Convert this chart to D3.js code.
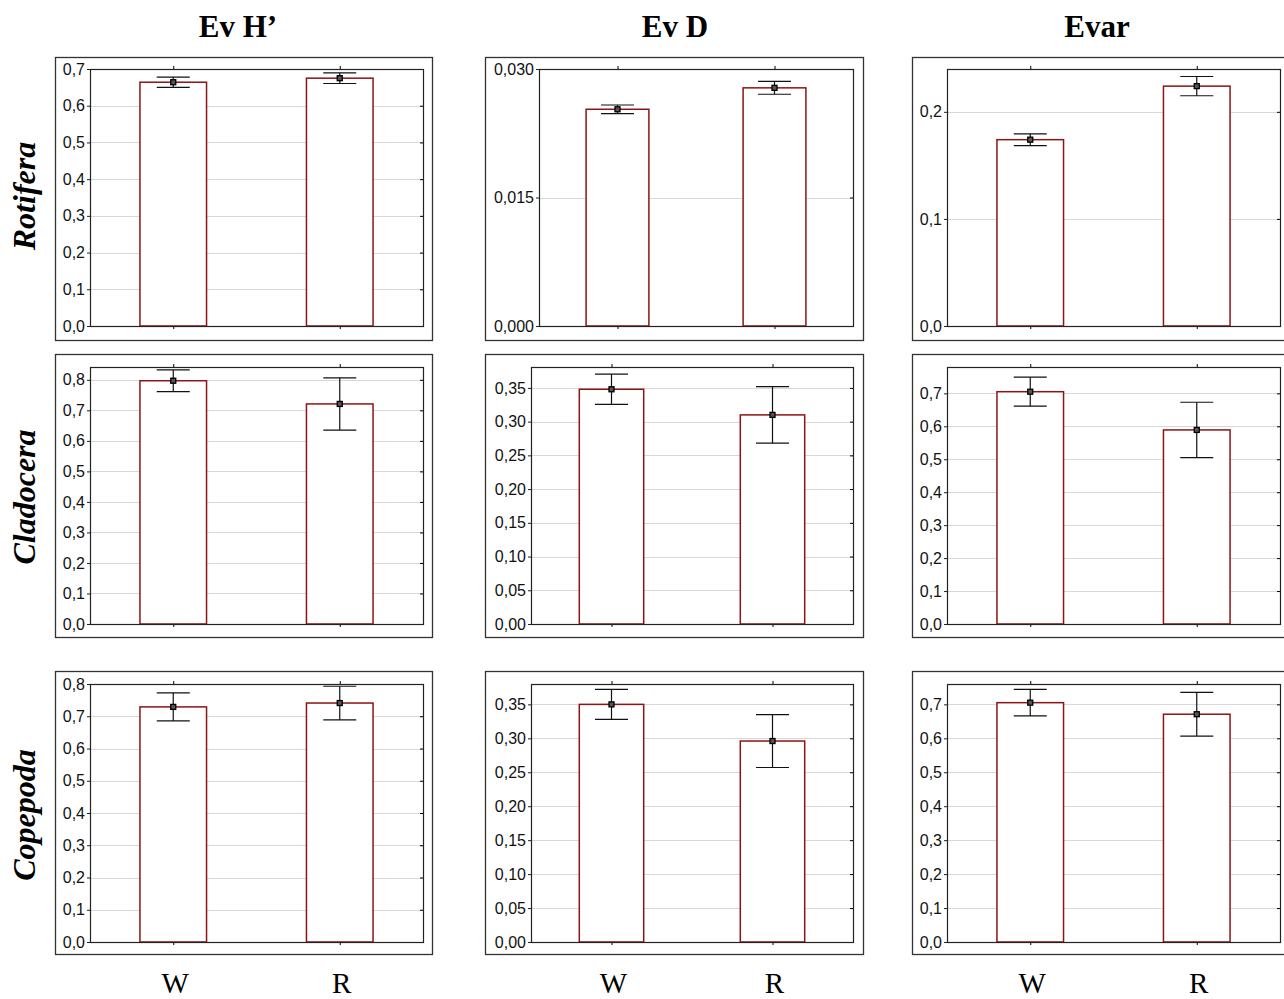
<!DOCTYPE html>
<html><head><meta charset="utf-8">
<script src="https://cdn.jsdelivr.net/npm/d3@7"></script>
<style>body{margin:0;background:#fff}svg{display:block}</style>
</head><body>
<script>
// ---- data ----
const categories = ["W", "R"];
const groups = ["Rotifera", "Cladocera", "Copepoda"];
const indices = ["Ev H\u2019", "Ev D", "Evar"];

const rotiferaMeans  = [[0.664, 0.675], [0.0253, 0.0278], [0.174, 0.224]];
const rotiferaErr    = [[0.014, 0.0145], [0.0005, 0.00075], [0.0055, 0.009]];
const cladoceraMeans = [[0.797, 0.721], [0.348, 0.310], [0.705, 0.589]];
const cladoceraErr   = [[0.0355, 0.0855], [0.0223, 0.042], [0.044, 0.084]];
const copepodaMeans  = [[0.729, 0.741], [0.350, 0.296], [0.705, 0.671]];
const copepodaErr    = [[0.0435, 0.052], [0.022, 0.039], [0.039, 0.0645]];

const yMax = [[0.70, 0.030, 0.240], [0.842, 0.381, 0.780], [0.80, 0.380, 0.760]];
const tickValues = [
  [[0,0.1,0.2,0.3,0.4,0.5,0.6,0.7], [0,0.015,0.030], [0,0.1,0.2]],
  [[0,0.1,0.2,0.3,0.4,0.5,0.6,0.7,0.8], [0,0.05,0.10,0.15,0.20,0.25,0.30,0.35], [0,0.1,0.2,0.3,0.4,0.5,0.6,0.7]],
  [[0,0.1,0.2,0.3,0.4,0.5,0.6,0.7,0.8], [0,0.05,0.10,0.15,0.20,0.25,0.30,0.35], [0,0.1,0.2,0.3,0.4,0.5,0.6,0.7]]
];
const tickFormats = [[".1f", ".3f", ".1f"], [".1f", ".2f", ".1f"], [".1f", ".2f", ".1f"]];

const means = [rotiferaMeans, cladoceraMeans, copepodaMeans];
const errs = [rotiferaErr, cladoceraErr, copepodaErr];

// ---- layout ----
const W = 1284, H = 999;
const outerX = [[55, 432], [485, 863], [912, 1292]];
const outerY = [[57, 340], [354, 637], [671, 954]];
const plotX = [[[90, 423], [539, 853], [947, 1280]],
               [[90, 423], [531, 853], [947, 1280]],
               [[90, 423], [531, 853], [947, 1280]]];
const plotY = [[69, 326], [367, 624], [684, 942]];

const loc = d3.formatLocale({decimal: ",", thousands: ".", grouping: [3], currency: ["", ""]});

const svg = d3.select("body").append("svg").attr("width", W).attr("height", H);

const titleX = [238, 675, 1097];
indices.forEach((t, j) => {
  svg.append("text").attr("x", titleX[j]).attr("y", 37)
    .attr("text-anchor", "middle")
    .attr("font-family", "Liberation Serif, Times New Roman, serif")
    .attr("font-weight", "bold").attr("font-size", 31).text(t);
});
const rowLabelY = [196, 497, 815];
groups.forEach((g, i) => {
  svg.append("text").attr("transform", `translate(35,${rowLabelY[i]}) rotate(-90)`)
    .attr("text-anchor", "middle")
    .attr("font-family", "Liberation Serif, Times New Roman, serif")
    .attr("font-weight", "bold").attr("font-style", "italic")
    .attr("font-size", 32).text(g);
});

for (let i = 0; i < 3; i++) {
  for (let j = 0; j < 3; j++) {
    const [ox0, ox1] = outerX[j], [oy0, oy1] = outerY[i];
    svg.append("rect").attr("x", ox0 + 0.5).attr("y", oy0 + 0.5)
      .attr("width", ox1 - ox0).attr("height", oy1 - oy0)
      .attr("fill", "none").attr("stroke", "#333").attr("stroke-width", 1.3);

    const [px0, px1] = plotX[i][j], [py0, py1] = plotY[i];
    const x = d3.scalePoint().domain(categories).range([px0, px1]).padding(0.5);
    const y = d3.scaleLinear().domain([0, yMax[i][j]]).range([py1, py0]);
    const bw = (px1 - px0) * 0.2;
    const g = svg.append("g");

    // grid
    g.selectAll(".grid").data(tickValues[i][j].filter(v => v > 0 && y(v) > py0 + 1))
      .enter().append("line")
      .attr("x1", px0).attr("x2", px1)
      .attr("y1", d => Math.round(y(d)) + 0.5).attr("y2", d => Math.round(y(d)) + 0.5)
      .attr("stroke", "#d8d8d8").attr("stroke-width", 1);

    // y axis left
    const fmt = loc.format(tickFormats[i][j]);
    const ya = g.append("g").attr("transform", `translate(${px0},0)`)
      .call(d3.axisLeft(y).tickValues(tickValues[i][j]).tickFormat(fmt).tickSize(3).tickPadding(2));
    ya.select(".domain").remove();
    ya.selectAll("text").attr("font-family", "Liberation Sans, Arial, sans-serif")
      .attr("font-size", 16).attr("fill", "#111");
    ya.selectAll("line").attr("stroke", "#222");
    // right ticks
    const yr = g.append("g").attr("transform", `translate(${px1},0)`)
      .call(d3.axisLeft(y).tickValues(tickValues[i][j]).tickFormat("").tickSize(3));
    yr.select(".domain").remove();
    // bottom ticks
    const xb = g.append("g").attr("transform", `translate(0,${py1})`)
      .call(d3.axisBottom(x).tickFormat("").tickSize(3));
    xb.select(".domain").remove();
    const xt = g.append("g").attr("transform", `translate(0,${py0})`)
      .call(d3.axisTop(x).tickFormat("").tickSize(3));
    xt.select(".domain").remove();

    // bars
    const data = categories.map((c, k) => ({c, m: means[i][j][k], e: errs[i][j][k]}));
    g.selectAll(".bar").data(data).enter().append("rect")
      .attr("x", d => x(d.c) - bw / 2).attr("y", d => y(d.m))
      .attr("width", bw).attr("height", d => py1 - y(d.m))
      .attr("fill", "#fff").attr("stroke", "#8c1414").attr("stroke-width", 1.5);

    // frame
    g.append("rect").attr("x", px0 + 0.5).attr("y", py0 + 0.5)
      .attr("width", px1 - px0).attr("height", py1 - py0)
      .attr("fill", "none").attr("stroke", "#222").attr("stroke-width", 1.2);

    // error bars
    const cap = 16.5;
    const eb = g.selectAll(".eb").data(data).enter().append("g");
    eb.append("line").attr("x1", d => x(d.c)).attr("x2", d => x(d.c))
      .attr("y1", d => y(d.m + d.e)).attr("y2", d => y(d.m - d.e))
      .attr("stroke", "#111").attr("stroke-width", 1.2);
    eb.append("line").attr("x1", d => x(d.c) - cap).attr("x2", d => x(d.c) + cap)
      .attr("y1", d => y(d.m + d.e)).attr("y2", d => y(d.m + d.e))
      .attr("stroke", "#111").attr("stroke-width", 1.2);
    eb.append("line").attr("x1", d => x(d.c) - cap).attr("x2", d => x(d.c) + cap)
      .attr("y1", d => y(d.m - d.e)).attr("y2", d => y(d.m - d.e))
      .attr("stroke", "#111").attr("stroke-width", 1.2);
    eb.append("rect").attr("x", d => x(d.c) - 2.5).attr("y", d => y(d.m) - 2.5)
      .attr("width", 5).attr("height", 5)
      .attr("fill", "#555").attr("stroke", "#000").attr("stroke-width", 1.3);

    // category labels under bottom row
    if (i === 2) {
      svg.selectAll(null).data(categories).enter().append("text")
        .attr("x", d => x(d) + 2).attr("y", 993)
        .attr("text-anchor", "middle")
        .attr("font-family", "Liberation Serif, Times New Roman, serif")
        .attr("font-size", 29).text(d => d);
    }
  }
}
</script>
</body></html>
